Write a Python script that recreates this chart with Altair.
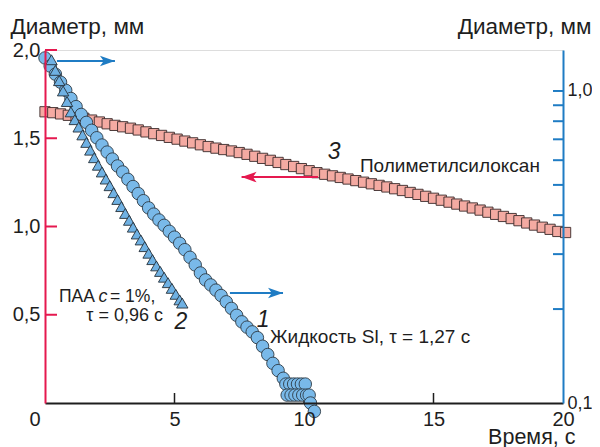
import altair as alt
import pandas as pd

# ---- data ----
# 3: Полиметилсилоксан (left, linear axis)
sq_t = [0.0, 0.3, 0.6, 0.9, 1.2, 1.5, 1.8, 2.1, 2.4, 2.7, 3.0, 3.3, 3.6, 3.9, 4.2, 4.5, 4.8,
        5.1, 5.4, 5.7, 6.0, 6.3, 6.6, 6.9, 7.2, 7.5, 7.8, 8.1, 8.4, 8.7, 9.0, 9.3, 9.6, 9.9,
        10.2, 10.5, 10.8, 11.1, 11.4, 11.7, 12.0, 12.3, 12.6, 12.9, 13.2, 13.5, 13.8, 14.1,
        14.4, 14.7, 15.0, 15.3, 15.6, 15.9, 16.2, 16.5, 16.8, 17.1, 17.4, 17.7, 18.0, 18.3,
        18.6, 18.9, 19.2, 19.5, 19.8, 20.1]
sq_d = [1.650, 1.645, 1.638, 1.630, 1.622, 1.613, 1.603, 1.592, 1.582, 1.573, 1.565, 1.557,
        1.547, 1.536, 1.526, 1.516, 1.505, 1.495, 1.484, 1.474, 1.463, 1.453, 1.444, 1.436,
        1.428, 1.419, 1.409, 1.398, 1.386, 1.375, 1.363, 1.351, 1.340, 1.328, 1.316, 1.305,
        1.296, 1.287, 1.278, 1.269, 1.260, 1.251, 1.242, 1.233, 1.224, 1.214, 1.204, 1.193,
        1.182, 1.171, 1.160, 1.149, 1.138, 1.127, 1.116, 1.105, 1.093, 1.081, 1.069, 1.057,
        1.045, 1.033, 1.020, 1.008, 0.996, 0.984, 0.972, 0.966]

# 1: Жидкость Sl (right, log axis)
ci_t = [0.0, 0.2, 0.4, 0.6, 0.8, 1.0, 1.2, 1.4, 1.6, 1.8, 2.0, 2.2, 2.4, 2.6, 2.8, 3.0, 3.2,
        3.4, 3.6, 3.8, 4.0, 4.2, 4.4, 4.6, 4.8, 5.0, 5.2, 5.4, 5.6, 5.8, 6.0, 6.2, 6.4, 6.6,
        6.8, 7.0, 7.2, 7.4, 7.6, 7.8, 8.0, 8.2, 8.4, 8.6, 8.8, 9.0, 9.2,
        9.3, 9.45, 9.6, 9.75, 9.9, 10.05,
        9.35, 9.5, 9.65, 9.8, 9.95, 10.1, 10.2,
        10.25, 10.4]
ci_d = [1.276, 1.202, 1.132, 1.067, 1.005, 0.946, 0.891, 0.841, 0.793, 0.748, 0.708, 0.671,
        0.637, 0.605, 0.575, 0.550, 0.521, 0.494, 0.469, 0.445, 0.422, 0.403, 0.386, 0.371,
        0.355, 0.340, 0.325, 0.310, 0.293, 0.277, 0.261, 0.248, 0.239, 0.230, 0.221, 0.211,
        0.201, 0.191, 0.182, 0.175, 0.169, 0.162, 0.152, 0.143, 0.134, 0.127, 0.120,
        0.115, 0.115, 0.115, 0.115, 0.115, 0.115,
        0.106, 0.106, 0.106, 0.106, 0.106, 0.106, 0.106,
        0.100, 0.094]

# 2: ПАА c = 1% (right, log axis)
tr_t = [0.25, 0.40, 0.55, 0.70, 0.85, 1.00, 1.15, 1.30, 1.45, 1.60, 1.75, 1.90, 2.05, 2.20,
        2.35, 2.50, 2.65, 2.80, 2.95, 3.10, 3.25, 3.40, 3.55, 3.70, 3.85, 4.00, 4.15, 4.30,
        4.45, 4.60, 4.75, 4.90, 5.05, 5.20, 5.30]
tr_d = [1.259, 1.164, 1.079, 1.000, 0.925, 0.857, 0.809, 0.766, 0.723, 0.684, 0.646, 0.611,
        0.578, 0.550, 0.522, 0.497, 0.472, 0.449, 0.426, 0.405, 0.385, 0.366, 0.348, 0.333,
        0.317, 0.302, 0.288, 0.275, 0.264, 0.253, 0.243, 0.233, 0.223, 0.214, 0.209]

x_ticks = [0, 5, 10, 15, 20]
yl_ticks = [0.5, 1.0, 1.5, 2.0]
yr_labels = [0.1, 1.0]
yr_minor = [0.2, 0.3, 0.4, 0.5, 0.6, 0.7, 0.8, 0.9, 1.0]

# ---- styles ----
PINK = "#e5194f"
BLUE = "#1f7cc4"
DARK = "#1e1e1e"
FONT = "Liberation Sans"
FS_TICK = 20
FS_TITLE = 22.5
W, H = 518, 353

x_scale = alt.Scale(domain=[0, 20], nice=False, zero=False)
yl_scale = alt.Scale(domain=[0, 2.0], nice=False, zero=False)
yr_scale = alt.Scale(type="log", domain=[0.1, 1.353], nice=False)

x_axis = alt.Axis(values=x_ticks, ticks=False, tickSize=0, grid=False, domainColor=DARK,
                  domainWidth=2, labelFontSize=FS_TICK, labelColor=DARK, labelPadding=6,
                  labelAlign={"condition": {"test": "datum.value == 0", "value": "right"},
                              "value": "center"},
                  labelOffset={"condition": {"test": "datum.value == 0", "value": -5},
                               "value": 0},
                  title="Время, с", titleX=530, titleY=40, titleAlign="right",
                  titleBaseline="alphabetic", titleAngle=0, titleFontSize=21.5,
                  titleFontWeight="normal", titleColor=DARK, zindex=1)
yl_axis = alt.Axis(orient="left", values=yl_ticks, format=".1f",
                   labelExpr="replace(datum.label, '.', ',')", ticks=False, tickSize=0,
                   grid=False, domainColor=PINK, domainWidth=2, labelFontSize=FS_TICK,
                   labelColor=DARK, labelPadding=5,
                   title="Диаметр, мм", titleX=-35, titleY=-17, titleAlign="left",
                   titleBaseline="alphabetic", titleAngle=0, titleFontSize=FS_TITLE,
                   titleFontWeight="normal", titleColor=DARK, zindex=1)
yr_axis = alt.Axis(orient="right", values=yr_labels, format=".1f",
                   labelExpr="replace(datum.label, '.', ',')", ticks=False, tickSize=0,
                   grid=False, domainColor=BLUE, domainWidth=2, labelFontSize=18,
                   labelColor=DARK, labelPadding=4,
                   title="Диаметр, мм", titleX=28, titleY=-17, titleAlign="right",
                   titleBaseline="alphabetic", titleAngle=0, titleFontSize=FS_TITLE,
                   titleFontWeight="normal", titleColor=DARK, zindex=1)


def X(f):
    return alt.X(f"{f}:Q", scale=x_scale, axis=x_axis)


def XL(f):
    return alt.X2(f"{f}:Q")


def YL(f):
    return alt.Y(f"{f}:Q", scale=yl_scale, axis=yl_axis)


def YR(f):
    return alt.Y(f"{f}:Q", scale=yr_scale, axis=yr_axis)


HEAD_R = "M0,0 L-2,-0.7 L-1.5,0 L-2,0.7 Z"
HEAD_L = "M0,0 L2,-0.7 L1.5,0 L2,0.7 Z"

df_sq = pd.DataFrame({"t": sq_t, "d": sq_d})
df_ci = pd.DataFrame({"t": ci_t, "d": ci_d})
df_tr = pd.DataFrame({"t": tr_t, "d": tr_d})

squares = alt.Chart(df_sq).mark_point(shape="square", filled=True, size=105, fill="#f4aaa2",
                                      stroke="#3a2a2a", strokeWidth=0.9, opacity=1).encode(
    x=X("t"), y=YL("d"))
circles = alt.Chart(df_ci).mark_point(shape="circle", filled=True, size=156, fill="#79b9e9",
                                      stroke="#2e3a44", strokeWidth=0.9, opacity=1).encode(
    x=X("t"), y=YR("d"))
triangles = alt.Chart(df_tr).mark_point(shape="triangle-up", filled=True, size=130,
                                        fill="#6fb1e3", stroke="#26313a", strokeWidth=0.9,
                                        opacity=1).encode(x=X("t"), y=YR("d"))

# inward ticks
lt = alt.Chart(pd.DataFrame({"v": yl_ticks})).mark_rule(color=PINK, strokeWidth=2).encode(
    x=alt.value(0), x2=alt.value(12), y=YL("v"))
rt = alt.Chart(pd.DataFrame({"v": yr_minor})).mark_rule(color=BLUE, strokeWidth=2).encode(
    x=alt.value(W - 10), x2=alt.value(W), y=YR("v"))
xt = alt.Chart(pd.DataFrame({"v": [5, 10, 15]})).mark_rule(color=DARK, strokeWidth=1.5).encode(
    x=X("v"), y=alt.value(H - 10), y2=alt.value(H))

# arrows
pink_arrow = pd.DataFrame({"x0": [10.54], "x1": [7.59], "y": [1.28]})
blue_arrows = pd.DataFrame({"x0": [0.46, 7.14], "x1": [2.70, 9.19], "y": [1.247, 0.2252]})

pa_line = alt.Chart(pink_arrow).mark_rule(color=PINK, strokeWidth=2).encode(
    x=X("x0"), x2=XL("x1"), y=YL("y"))
pa_head = alt.Chart(pink_arrow).mark_point(shape=HEAD_L, filled=True, size=225, fill=PINK,
                                           strokeWidth=0, opacity=1).encode(x=X("x1"), y=YL("y"))
ba_line = alt.Chart(blue_arrows).mark_rule(color=BLUE, strokeWidth=2).encode(
    x=X("x0"), x2=XL("x1"), y=YR("y"))
ba_head = alt.Chart(blue_arrows).mark_point(shape=HEAD_R, filled=True, size=225, fill=BLUE,
                                            strokeWidth=0, opacity=1).encode(x=X("x1"), y=YR("y"))


# texts (positions in data units of the left axis)
def txt(rows, align="left", italic=False, size=19):
    df = pd.DataFrame(rows, columns=["x", "y", "s"])
    return alt.Chart(df).mark_text(align=align, baseline="middle", font=FONT, fontSize=size,
                                   fontStyle="italic" if italic else "normal",
                                   color=DARK).encode(x=X("x"), y=YL("y"), text="s:N")


t_long = txt([(8.69, 0.374, "Жидкость Sl, τ = 1,27 с"), (12.16, 1.343, "Полиметилсилоксан")])
t_paa = txt([(0.54, 0.601, "ПАА"), (2.51, 0.601, "= 1%,")], size=17.5)
t_right = txt([(4.556, 0.493, "τ = 0,96 с")], align="right", size=18)
t_ital = txt([(2.07, 0.601, "c")], italic=True, size=18)
t_nums = txt([(11.16, 1.422, "3"), (5.25, 0.459, "2"), (8.42, 0.47, "1")], align="center",
             italic=True, size=23)

left = alt.layer(squares, lt, xt, pa_line, pa_head, t_long, t_paa, t_right, t_ital, t_nums)
right = alt.layer(circles, triangles, rt, ba_line, ba_head)

chart = alt.layer(left, right).resolve_scale(y="independent").properties(
    width=W, height=H,
    autosize=alt.AutoSizeParams(type="none"),
    padding={"left": 37, "top": 42, "right": 29, "bottom": 44},
    background="white",
).configure_view(stroke=None).configure(font=FONT)

chart.save("out.html", embed_options={"renderer": "svg", "actions": False})
